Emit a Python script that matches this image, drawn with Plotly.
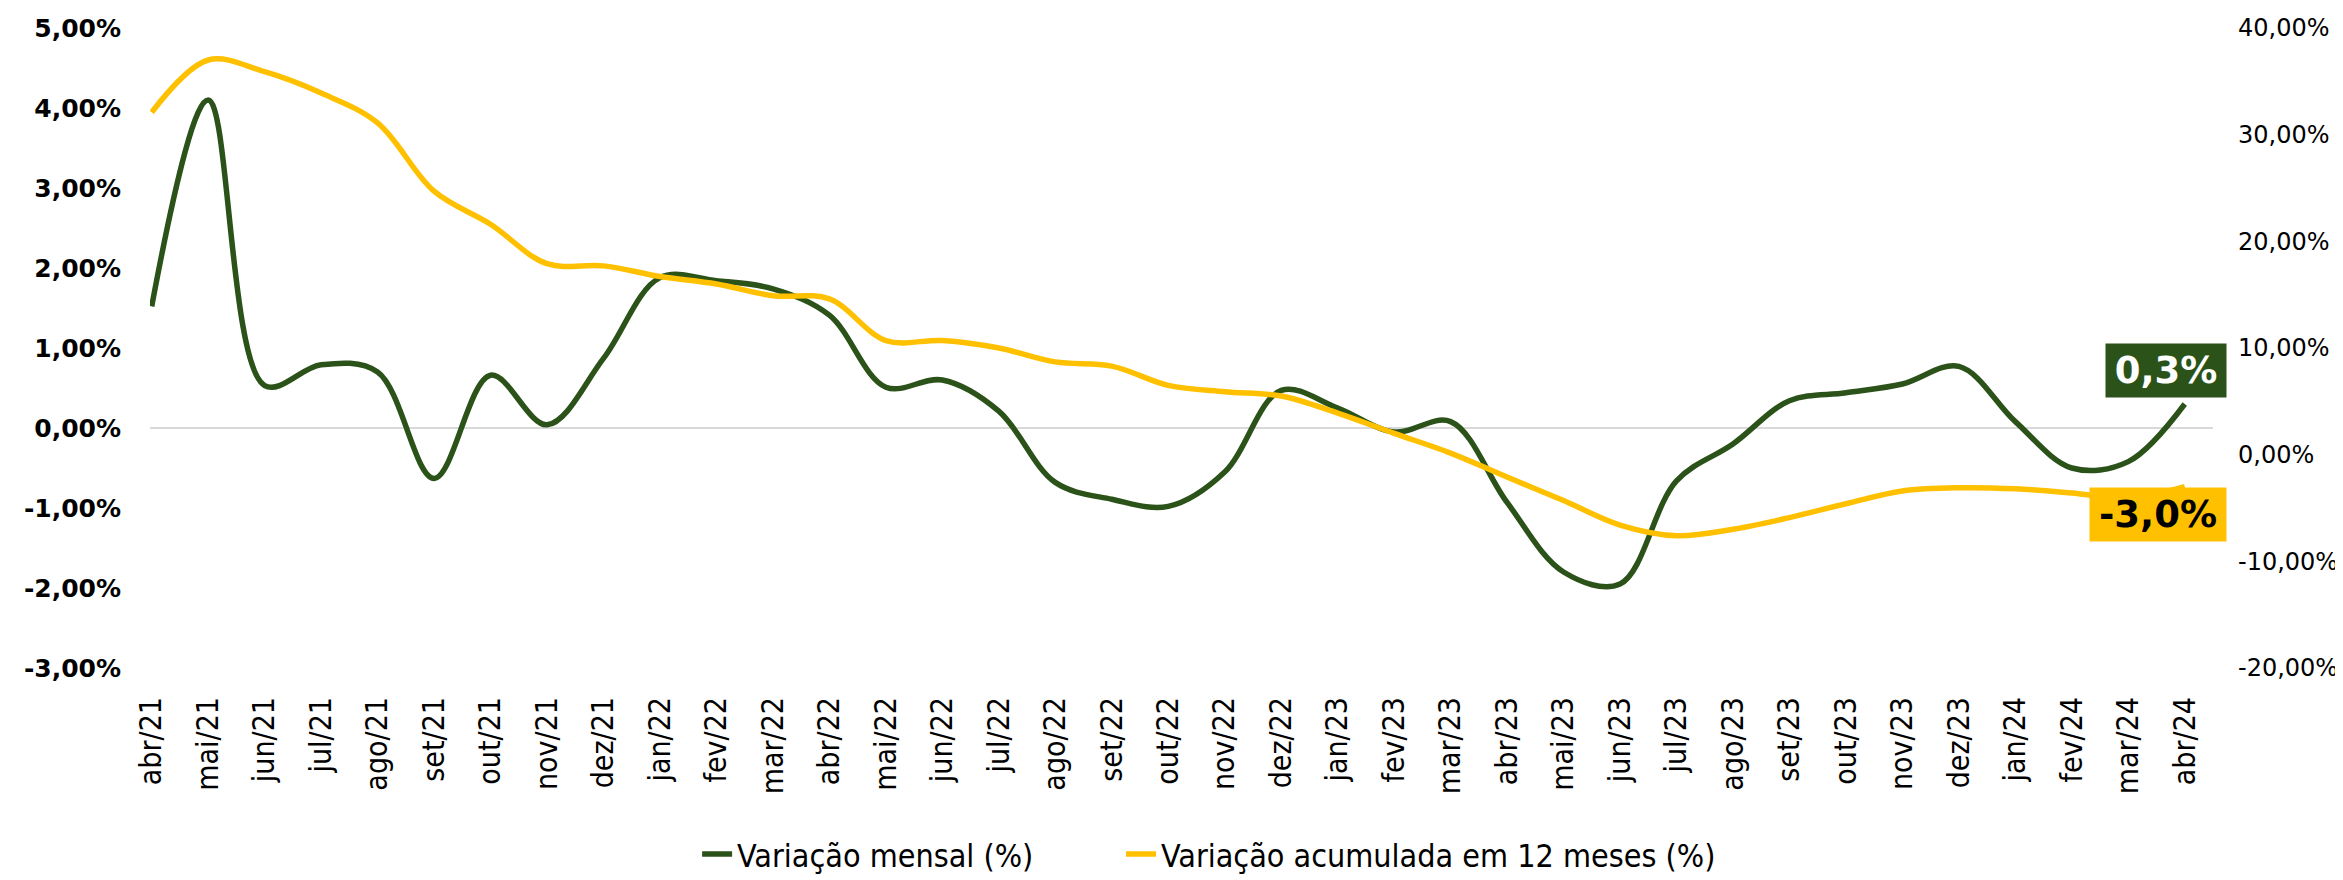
import plotly.graph_objects as go

categories = ["abr/21","mai/21","jun/21","jul/21","ago/21","set/21","out/21","nov/21","dez/21",
              "jan/22","fev/22","mar/22","abr/22","mai/22","jun/22","jul/22","ago/22","set/22","out/22","nov/22","dez/22",
              "jan/23","fev/23","mar/23","abr/23","mai/23","jun/23","jul/23","ago/23","set/23","out/23","nov/23","dez/23",
              "jan/24","fev/24","mar/24","abr/24"]

var_mensal = [1.52, 4.10, 0.53, 0.79, 0.70, -0.63, 0.66, 0.04, 0.87,
              1.88, 1.84, 1.74, 1.41, 0.51, 0.60, 0.21, -0.68, -0.89, -0.98, -0.55, 0.47,
              0.25, -0.05, 0.08, -0.93, -1.80, -1.95, -0.66, -0.20, 0.34, 0.44, 0.55, 0.77,
              0.08, -0.50, -0.42, 0.30]

var_12m = [32.1, 37.0, 35.9, 33.9, 31.1, 24.7, 21.6, 17.9, 17.7,
           16.7, 16.0, 14.9, 14.6, 10.7, 10.7, 10.0, 8.7, 8.3, 6.5, 5.9, 5.5,
           3.9, 2.0, 0.15, -2.1, -4.3, -6.6, -7.6, -7.0, -5.9, -4.6, -3.4, -3.1,
           -3.2, -3.6, -4.1, -3.0]

left_ticks = [-3, -2, -1, 0, 1, 2, 3, 4, 5]
right_ticks = [-20, -10, 0, 10, 20, 30, 40]

GREEN = "#2B5219"
YELLOW = "#FFC000"
COND = "DejaVu Sans Condensed, DejaVu Sans, sans-serif"

x_idx = list(range(len(categories)))

def pct(v, d):
    return f"{v:.{d}f}".replace(".", ",") + "%"

fig = go.Figure()
fig.add_trace(go.Scatter(x=x_idx, y=var_mensal, name="Variação mensal (%)", mode="lines",
                         line=dict(color=GREEN, width=5.5, shape="spline", smoothing=1.0),
                         yaxis="y", legend="legend"))
fig.add_trace(go.Scatter(x=x_idx, y=var_12m, name="Variação acumulada em 12 meses (%)", mode="lines",
                         line=dict(color=YELLOW, width=5.5, shape="spline", smoothing=1.0),
                         yaxis="y2", legend="legend2"))

fig.add_annotation(x=x_idx[-1], y=var_mensal[-1], xref="x", yref="y", text="<b>" + pct(var_mensal[-1], 1) + "</b>",
                   showarrow=False, xshift=-19, yshift=34, bgcolor=GREEN, borderpad=5, width=110,
                   align="center",
                   font=dict(family="DejaVu Sans, sans-serif", size=37, color="white"))
fig.add_annotation(x=x_idx[-1], y=var_12m[-1], xref="x", yref="y2", text="<b>" + pct(var_12m[-1], 1) + "</b>",
                   showarrow=False, xshift=-27, yshift=-28, bgcolor=YELLOW, borderpad=5, width=126,
                   align="center",
                   font=dict(family="DejaVu Sans, sans-serif", size=37, color="black"))

legend_font = dict(family=COND, size=32, color="black")

fig.update_layout(
    width=2335, height=872,
    margin=dict(l=142, r=130, t=20, b=212, autoexpand=False),
    paper_bgcolor="white", plot_bgcolor="white",
    separators=",.",
    showlegend=True,
    legend=dict(orientation="h", x=0.2652, xanchor="left", y=-0.291, yanchor="middle",
                font=legend_font, bgcolor="rgba(0,0,0,0)", maxheight=200),
    legend2=dict(orientation="h", x=0.4707, xanchor="left", y=-0.291, yanchor="middle",
                 font=legend_font, bgcolor="rgba(0,0,0,0)", maxheight=200),
    xaxis=dict(range=[-0.03, 36.5], tickmode="array", tickvals=x_idx, ticktext=categories,
               tickangle=-90, showgrid=False, zeroline=False, showline=False, ticks="",
               ticklabelstandoff=22, automargin=False,
               tickfont=dict(family=COND, size=30, color="black")),
    yaxis=dict(range=[-3, 5], tickmode="array", tickvals=left_ticks,
               ticktext=[pct(v, 2) for v in left_ticks], showgrid=False,
               zeroline=True, zerolinecolor="#D9D9D9", zerolinewidth=2, showline=False, ticks="",
               ticklabelstandoff=28, automargin=False,
               tickfont=dict(family="DejaVu Sans, sans-serif", size=25, color="black", weight="bold")),
    yaxis2=dict(range=[-20, 40], tickmode="array", tickvals=right_ticks,
                ticktext=[pct(v, 2) for v in right_ticks], overlaying="y", side="right",
                showgrid=False, zeroline=False, showline=False, ticks="", ticklabelstandoff=24,
                automargin=False,
                tickfont=dict(family="DejaVu Sans, sans-serif", size=24, color="black")),
)

fig.write_html("out.html")
